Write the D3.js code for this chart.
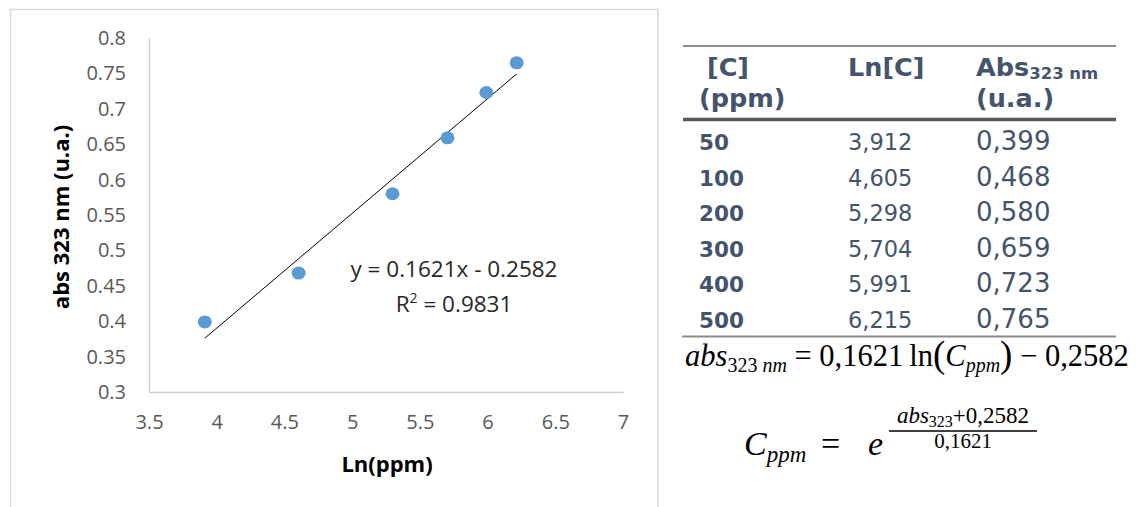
<!DOCTYPE html>
<html>
<head>
<meta charset="utf-8">
<script src="https://cdn.jsdelivr.net/npm/d3@7/dist/d3.min.js"></script>
<style>
  body { margin: 0; background: #fff; }
  svg { display: block; }
  text { white-space: pre; }
</style>
</head>
<body>
<svg id="fig" width="1136" height="507"></svg>
<script>
// Calibration data: concentration (ppm), ln of concentration, absorbance at 323 nm
const concPpm    = [50, 100, 200, 300, 400, 500];
const lnConc     = [3.912, 4.605, 5.298, 5.704, 5.991, 6.215];
const absorbance = [0.399, 0.468, 0.580, 0.659, 0.723, 0.765];

// Linear fit reported for the calibration
const fitSlope     = [0.1621];
const fitIntercept = [-0.2582];
const fitR2        = [0.9831];

// Axis ticks
const xTicks = [3.5, 4, 4.5, 5, 5.5, 6, 6.5, 7];
const yTicks = [0.3, 0.35, 0.4, 0.45, 0.5, 0.55, 0.6, 0.65, 0.7, 0.75, 0.8];

// Table headers
const tableHeaders = ["[C]", "Ln[C]", "Abs"];

const svg = d3.select("#fig");
const TICK_FONT = "'Open Sans', sans-serif";
const TABLE_FONT = "'DejaVu Sans', Verdana, sans-serif";
const MATH_FONT = "'Liberation Serif', 'Times New Roman', serif";
const slate = "#44546a";

// ---------- Scatter chart ----------
svg.append("rect")
  .attr("x", 10.5).attr("y", 9.5).attr("width", 647.5).attr("height", 520)
  .attr("fill", "#fff").attr("stroke", "#d9d9d9").attr("stroke-width", 1.5);

const x = d3.scaleLinear().domain([3.5, 7]).range([149, 623]);
const y = d3.scaleLinear().domain([0.3, 0.8]).range([392, 38]);

const xAxis = svg.append("g").attr("transform", `translate(0,${y(0.3)})`)
  .call(d3.axisBottom(x).tickValues(xTicks).tickFormat(d => String(d)).tickSize(0).tickPadding(23));
const yAxis = svg.append("g").attr("transform", `translate(${x(3.5)},0)`)
  .call(d3.axisLeft(y).tickValues(yTicks).tickFormat(d => String(d)).tickSize(0).tickPadding(23));

[xAxis, yAxis].forEach(g => {
  g.select(".domain").attr("stroke", "#cfcfcf").attr("stroke-width", 1.5);
  g.selectAll("text")
    .attr("font-family", TICK_FONT).attr("font-size", 20).attr("fill", "#595959");
});

// Axis titles
svg.append("text")
  .attr("x", 387).attr("y", 472).attr("text-anchor", "middle")
  .attr("font-family", TICK_FONT).attr("font-weight", "bold").attr("font-size", 22)
  .attr("fill", "#000").text("Ln(ppm)");
svg.append("text")
  .attr("transform", "translate(69,217) rotate(-90)").attr("text-anchor", "middle")
  .attr("font-family", TICK_FONT).attr("font-weight", "bold").attr("font-size", 22)
  .attr("fill", "#000").text("abs 323 nm (u.a.)");

// Linear trendline across the measured range
const xMin = d3.min(lnConc), xMax = d3.max(lnConc);
const fit = v => fitSlope[0] * v + fitIntercept[0];
svg.append("line")
  .attr("x1", x(xMin)).attr("y1", y(fit(xMin)))
  .attr("x2", x(xMax)).attr("y2", y(fit(xMax)))
  .attr("stroke", "#000").attr("stroke-width", 1);

// Data points
svg.append("g").selectAll("ellipse")
  .data(lnConc.map((v, i) => [v, absorbance[i]]))
  .join("ellipse")
  .attr("cx", d => x(d[0])).attr("cy", d => y(d[1]))
  .attr("rx", 7).attr("ry", 6.5)
  .attr("fill", "#5b9bd5");

// Fit equation label
const eq = svg.append("text")
  .attr("font-family", TICK_FONT).attr("font-size", 22.5).attr("fill", "#262626")
  .attr("text-anchor", "middle");
eq.append("tspan").attr("x", 454).attr("y", 277)
  .text(`y = ${fitSlope[0]}x - ${Math.abs(fitIntercept[0])}`);
const r2 = eq.append("tspan").attr("x", 454).attr("y", 312);
r2.append("tspan").text("R");
r2.append("tspan").attr("font-size", 14).attr("dy", -9).text("2");
r2.append("tspan").attr("dy", 9).text(` = ${fitR2[0]}`);

// ---------- Data table ----------
const tLeft = 683, tRight = 1116;
const colX = [699, 848, 976];
svg.append("line").attr("x1", tLeft).attr("x2", tRight).attr("y1", 46).attr("y2", 46)
  .attr("stroke", "#8c8c8c").attr("stroke-width", 2);
svg.append("line").attr("x1", tLeft).attr("x2", tRight).attr("y1", 119.5).attr("y2", 119.5)
  .attr("stroke", "#595959").attr("stroke-width", 3.5);
svg.append("line").attr("x1", tLeft - 1).attr("x2", tRight).attr("y1", 336.5).attr("y2", 336.5)
  .attr("stroke", "#8c8c8c").attr("stroke-width", 2);

const head = svg.append("g").attr("font-family", TABLE_FONT).attr("font-weight", "bold")
  .attr("font-size", 25.5).attr("fill", slate);
head.append("text").attr("x", colX[0] + 8).attr("y", 76).text(tableHeaders[0]);
head.append("text").attr("x", colX[0]).attr("y", 107).text("(ppm)");
head.append("text").attr("x", colX[1]).attr("y", 76).text(tableHeaders[1]);
const absHead = head.append("text").attr("x", colX[2]).attr("y", 76);
absHead.append("tspan").text(tableHeaders[2]);
absHead.append("tspan").attr("font-size", 16.5).attr("dy", 3).text("323 nm");
head.append("text").attr("x", colX[2]).attr("y", 107).text("(u.a.)");

const comma = (v, n) => v.toFixed(n).replace(".", ",");
const rowY = i => 150 + i * 35.5;
const rows = svg.append("g").attr("font-family", TABLE_FONT).attr("fill", slate);
rows.selectAll("text.c0").data(concPpm).join("text").attr("class", "c0")
  .attr("x", colX[0]).attr("y", (d, i) => rowY(i))
  .attr("font-weight", "bold").attr("font-size", 21.5).text(d => d);
rows.selectAll("text.c1").data(lnConc).join("text").attr("class", "c1")
  .attr("x", colX[1]).attr("y", (d, i) => rowY(i))
  .attr("font-size", 22.5).text(d => comma(d, 3));
rows.selectAll("text.c2").data(absorbance).join("text").attr("class", "c2")
  .attr("x", colX[2]).attr("y", (d, i) => rowY(i))
  .attr("font-size", 26).text(d => comma(d, 3));

// ---------- Equations ----------
const slopeTxt = comma(fitSlope[0], 4);
const interTxt = comma(Math.abs(fitIntercept[0]), 4);

const f1 = svg.append("text").attr("x", 685).attr("y", 366)
  .attr("font-family", MATH_FONT).attr("font-size", 30.5).attr("fill", "#000");
f1.append("tspan").attr("font-style", "italic").text("abs");
f1.append("tspan").attr("font-size", 20).attr("dy", 6).text("323 ");
f1.append("tspan").attr("font-size", 20).attr("font-style", "italic").text("nm");
f1.append("tspan").attr("dy", -6).text(` = ${slopeTxt}\u2009ln`);
f1.append("tspan").attr("font-size", 37).attr("dy", 1).text("(");
f1.append("tspan").attr("dy", -1).attr("font-style", "italic").text("C");
f1.append("tspan").attr("font-size", 20).attr("font-style", "italic").attr("dy", 6).text("ppm");
f1.append("tspan").attr("font-size", 37).attr("dy", -5).text(")");
f1.append("tspan").attr("dy", -1).text(` \u2212 ${interTxt}`);

const f2 = svg.append("text").attr("x", 744).attr("y", 455)
  .attr("font-family", MATH_FONT).attr("font-size", 34).attr("fill", "#000");
f2.append("tspan").attr("font-style", "italic").text("C");
f2.append("tspan").attr("font-size", 23).attr("font-style", "italic").attr("dy", 7).text("ppm");
svg.append("text").attr("x", 821).attr("y", 455)
  .attr("font-family", MATH_FONT).attr("font-size", 34).attr("fill", "#000").text("=");
svg.append("text").attr("x", 868).attr("y", 455)
  .attr("font-family", MATH_FONT).attr("font-size", 34).attr("font-style", "italic")
  .attr("fill", "#000").text("e");

const num = svg.append("text").attr("x", 963).attr("y", 423).attr("text-anchor", "middle")
  .attr("font-family", MATH_FONT).attr("font-size", 23).attr("fill", "#000");
num.append("tspan").attr("font-style", "italic").text("abs");
num.append("tspan").attr("font-size", 16).attr("dy", 4).text("323");
num.append("tspan").attr("dy", -4).text(`+${interTxt}`);
svg.append("line").attr("x1", 889).attr("x2", 1037).attr("y1", 431).attr("y2", 431)
  .attr("stroke", "#000").attr("stroke-width", 1.5);
svg.append("text").attr("x", 963).attr("y", 448).attr("text-anchor", "middle")
  .attr("font-family", MATH_FONT).attr("font-size", 21).attr("fill", "#000")
  .text(slopeTxt);
</script>
</body>
</html>
